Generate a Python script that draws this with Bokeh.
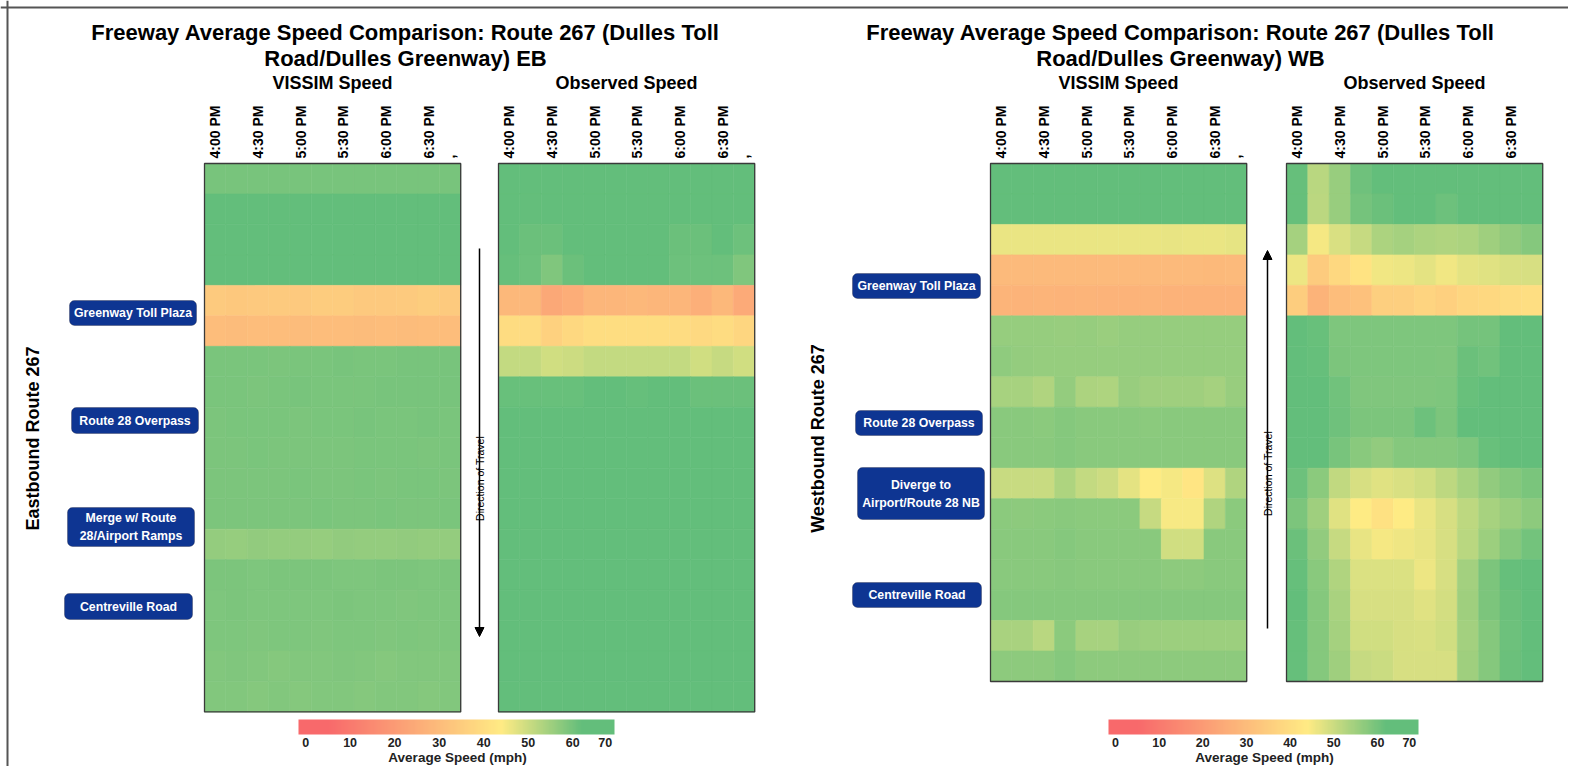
import math
import numpy as np
from bokeh.plotting import figure
from bokeh.models import (ColumnDataSource, Range1d, LinearColorMapper, ColorBar, FixedTicker,
                          BoxAnnotation, Arrow, NormalHead, Span)
from bokeh.transform import transform
from bokeh.core.properties import value
from bokeh.embed import file_html
from bokeh.resources import INLINE

# ---------------- data ----------------
tick_labels = ["4:00 PM", "4:30 PM", "5:00 PM", "5:30 PM", "6:00 PM", "6:30 PM", "  ,"]
tick_cols = [0, 2, 4, 6, 8, 10, 11]

# Eastbound, VISSIM speed (mph), 18 segments x 12 fifteen-minute intervals
eb_vissim = [
    [59.6, 59.7, 59.5, 59.7, 59.6, 59.7, 59.5, 59.6, 59.7, 59.6, 59.7, 59.6],
    [62.5, 62.5, 62.5, 62.5, 62.5, 62.5, 62.5, 62.5, 62.5, 62.5, 62.5, 62.5],
    [62.5, 62.5, 62.5, 62.5, 62.5, 62.5, 62.5, 62.5, 62.5, 62.5, 62.5, 62.5],
    [62.5, 62.5, 62.5, 62.5, 62.5, 62.5, 62.5, 62.5, 62.5, 62.5, 62.5, 62.5],
    [34.0, 33.7, 33.9, 34.1, 33.8, 34.6, 34.7, 33.9, 33.8, 34.0, 34.8, 34.0],
    [30.0, 29.9, 30.1, 30.0, 29.8, 30.0, 30.1, 29.9, 30.0, 29.9, 30.1, 30.0],
    [59.3, 59.3, 59.4, 59.2, 59.3, 59.4, 59.5, 59.4, 59.3, 59.5, 59.6, 59.5],
    [59.4, 59.3, 59.2, 59.3, 59.5, 59.4, 59.4, 59.3, 59.5, 59.6, 59.5, 59.6],
    [59.2, 59.3, 59.4, 59.3, 59.2, 59.3, 59.4, 59.5, 59.4, 59.3, 59.5, 59.4],
    [59.0, 59.2, 59.3, 59.2, 59.1, 59.0, 59.2, 59.3, 59.4, 59.3, 59.2, 59.4],
    [59.1, 59.0, 59.2, 59.1, 59.3, 59.2, 59.1, 59.3, 59.2, 59.4, 59.3, 59.2],
    [59.2, 59.1, 59.0, 59.2, 59.1, 59.3, 59.2, 59.1, 59.3, 59.2, 59.1, 59.3],
    [56.4, 56.2, 56.5, 56.3, 56.4, 56.2, 56.6, 56.3, 56.4, 56.5, 56.3, 56.4],
    [59.0, 59.1, 58.9, 59.0, 59.1, 59.0, 58.8, 58.9, 59.0, 59.1, 58.9, 59.0],
    [58.9, 59.0, 58.8, 58.9, 58.8, 58.9, 59.0, 58.8, 58.9, 58.7, 58.9, 58.8],
    [58.8, 58.9, 58.7, 58.8, 58.9, 58.7, 58.8, 58.9, 58.7, 58.8, 58.7, 58.9],
    [58.4, 58.5, 58.3, 58.2, 58.4, 58.3, 58.5, 58.4, 58.2, 58.3, 58.4, 58.3],
    [58.3, 58.4, 58.2, 58.3, 58.2, 58.4, 58.3, 58.2, 58.4, 58.3, 58.2, 58.4],
]

# Eastbound, observed speed (mph)
eb_observed = [
    [63.0, 63.0, 63.0, 63.0, 63.0, 63.0, 63.0, 63.0, 63.0, 63.0, 63.0, 63.0],
    [63.0, 61.8, 63.0, 63.0, 63.0, 63.0, 63.0, 63.0, 63.0, 63.0, 63.0, 63.0],
    [63.0, 61.2, 61.2, 63.0, 63.0, 63.0, 63.0, 63.0, 61.2, 61.2, 63.0, 60.8],
    [61.7, 60.8, 58.7, 61.2, 63.0, 63.0, 63.0, 63.0, 60.8, 60.8, 60.8, 58.7],
    [28.7, 28.7, 23.9, 25.4, 28.1, 28.1, 28.7, 28.1, 28.1, 26.0, 28.5, 24.5],
    [39.5, 39.5, 36.2, 38.3, 39.8, 39.8, 39.8, 39.8, 39.5, 38.5, 39.5, 37.7],
    [50.8, 50.8, 49.3, 49.8, 50.8, 50.8, 50.8, 50.8, 50.8, 49.3, 50.6, 49.3],
    [61.4, 61.4, 61.4, 61.4, 63.0, 63.0, 61.7, 63.0, 63.0, 61.2, 61.2, 61.2],
    [63.0, 63.0, 63.0, 63.0, 63.0, 63.0, 63.0, 63.0, 63.0, 63.0, 63.0, 63.0],
    [63.0, 63.0, 63.0, 63.0, 63.0, 63.0, 63.0, 63.0, 63.0, 63.0, 63.0, 63.0],
    [63.0, 63.0, 63.0, 63.0, 63.0, 63.0, 63.0, 63.0, 63.0, 63.0, 63.0, 63.0],
    [63.0, 63.0, 63.0, 63.0, 63.0, 63.0, 63.0, 63.0, 63.0, 63.0, 63.0, 63.0],
    [63.0, 63.0, 63.0, 63.0, 63.0, 63.0, 63.0, 63.0, 63.0, 63.0, 63.0, 63.0],
    [63.0, 63.0, 63.0, 63.0, 63.0, 63.0, 63.0, 63.0, 63.0, 63.0, 63.0, 63.0],
    [63.0, 63.0, 63.0, 63.0, 63.0, 63.0, 63.0, 63.0, 63.0, 63.0, 63.0, 63.0],
    [63.0, 63.0, 63.0, 63.0, 63.0, 63.0, 63.0, 63.0, 63.0, 63.0, 63.0, 63.0],
    [63.0, 63.0, 63.0, 63.0, 63.0, 63.0, 63.0, 63.0, 63.0, 63.0, 63.0, 63.0],
    [63.0, 63.0, 63.0, 63.0, 63.0, 63.0, 63.0, 63.0, 63.0, 63.0, 63.0, 63.0],
]

# Westbound, VISSIM speed (mph), 17 segments
wb_vissim = [
    [62.5, 62.5, 62.5, 62.5, 62.5, 62.5, 62.5, 62.5, 62.5, 62.5, 62.5, 62.5],
    [62.5, 62.5, 62.5, 62.5, 62.5, 62.5, 62.5, 62.5, 62.5, 62.5, 62.5, 62.5],
    [46.3, 46.3, 46.3, 46.3, 46.4, 46.3, 46.4, 46.3, 46.5, 46.4, 46.4, 46.8],
    [29.3, 29.3, 29.4, 29.3, 29.3, 29.4, 29.3, 29.4, 29.3, 29.3, 29.2, 29.3],
    [27.3, 27.2, 27.3, 27.2, 27.3, 27.2, 27.2, 27.3, 26.8, 26.8, 26.9, 26.8],
    [56.1, 56.1, 56.0, 55.8, 56.0, 55.5, 56.1, 56.1, 56.0, 56.0, 56.1, 56.1],
    [56.8, 56.3, 56.1, 56.2, 56.0, 56.0, 56.1, 56.0, 56.1, 56.0, 56.0, 56.1],
    [54.2, 54.2, 53.1, 56.3, 53.6, 53.4, 55.9, 55.2, 55.0, 55.0, 54.3, 55.9],
    [57.5, 57.5, 57.4, 58.0, 57.5, 57.6, 57.5, 57.4, 57.5, 57.6, 57.5, 57.5],
    [57.7, 57.6, 57.7, 58.0, 57.7, 57.7, 57.6, 57.7, 57.7, 57.6, 57.7, 57.7],
    [50.3, 50.3, 50.3, 53.3, 50.8, 49.8, 47.0, 44.2, 45.2, 42.0, 47.9, 53.1],
    [57.3, 57.0, 57.3, 57.6, 57.3, 57.3, 57.4, 50.5, 44.8, 44.8, 53.1, 57.3],
    [57.7, 57.7, 57.7, 58.0, 57.7, 57.7, 57.7, 57.7, 49.3, 49.3, 57.7, 57.7],
    [57.7, 57.7, 57.7, 57.9, 57.7, 57.7, 57.7, 57.7, 57.1, 57.1, 57.7, 57.7],
    [58.0, 58.0, 58.0, 58.2, 58.0, 58.0, 58.0, 58.0, 58.0, 58.0, 58.0, 58.0],
    [53.9, 53.9, 52.2, 57.3, 54.0, 54.0, 55.9, 55.4, 55.4, 55.4, 55.4, 55.4],
    [57.1, 57.1, 57.1, 58.0, 57.1, 57.1, 57.1, 57.1, 57.1, 57.1, 57.1, 57.1],
]

# Westbound, observed speed (mph)
wb_observed = [
    [61.7, 52.0, 55.9, 60.6, 63.0, 63.0, 63.0, 63.0, 63.0, 63.0, 63.0, 63.0],
    [61.7, 51.8, 55.9, 59.8, 61.2, 63.0, 63.0, 60.8, 63.0, 63.0, 63.0, 63.0],
    [54.3, 45.2, 48.4, 50.5, 53.6, 54.3, 53.6, 53.1, 53.6, 55.0, 56.5, 58.0],
    [46.1, 34.4, 38.3, 41.6, 45.7, 46.2, 47.2, 45.7, 47.1, 47.6, 48.4, 48.7],
    [35.0, 27.2, 30.2, 31.4, 35.6, 35.6, 37.1, 35.9, 37.7, 38.3, 39.5, 40.1],
    [63.0, 61.4, 58.8, 58.8, 58.8, 58.8, 58.8, 58.8, 59.8, 59.8, 63.0, 63.0],
    [63.0, 61.7, 59.1, 58.8, 58.8, 58.8, 58.8, 58.7, 61.2, 60.3, 63.0, 63.0],
    [63.0, 63.0, 60.3, 58.7, 58.7, 58.7, 58.7, 58.8, 61.4, 63.0, 63.0, 63.0],
    [63.0, 63.0, 60.5, 59.0, 59.0, 59.0, 60.8, 59.0, 63.0, 63.0, 63.0, 63.0],
    [63.0, 63.0, 59.6, 57.7, 56.5, 58.2, 58.2, 58.2, 58.8, 61.4, 63.0, 63.0],
    [60.8, 57.3, 51.0, 48.7, 47.5, 48.4, 49.3, 51.7, 54.2, 56.6, 58.1, 59.3],
    [59.2, 55.0, 47.7, 44.2, 41.0, 44.0, 46.3, 48.7, 51.7, 54.2, 55.5, 57.1],
    [61.2, 56.6, 50.5, 46.7, 45.2, 45.8, 46.6, 48.7, 52.2, 55.4, 58.1, 60.1],
    [61.7, 57.5, 53.1, 48.0, 48.0, 48.0, 46.0, 48.7, 54.6, 59.2, 61.7, 63.0],
    [63.0, 58.2, 53.9, 48.5, 48.5, 48.7, 47.7, 49.0, 55.0, 59.2, 61.2, 63.0],
    [61.7, 58.0, 54.3, 49.3, 49.3, 48.7, 48.4, 49.3, 54.6, 58.0, 60.8, 63.0],
    [61.7, 58.2, 55.0, 50.5, 50.1, 48.7, 48.7, 48.7, 55.0, 58.2, 61.2, 63.0],
]

# landmarks (label lines)
eb_landmarks = [["Greenway Toll Plaza"], ["Route 28 Overpass"], ["Merge w/ Route", "28/Airport Ramps"], ["Centreville Road"]]
wb_landmarks = [["Greenway Toll Plaza"], ["Route 28 Overpass"], ["Diverge to", "Airport/Route 28 NB"], ["Centreville Road"]]

colorbar_ticks = [0, 10, 20, 30, 40, 50, 60, 70]

# ---------------- helpers / layout ----------------
FONT = value("Liberation Sans")
W, H = 1568, 766
CW, RH = 21.35, 30.47          # px per interval column / per segment row
OX, OY = 204.0, 163.0          # page px of the EB VISSIM grid origin


def gx(px):
    return (px - OX) / CW


def gy(py):
    return (py - OY) / RH


def speed_color(v):
    stops = [(5.0, (248, 105, 107)), (44.0, (255, 235, 132)), (62.0, (99, 190, 123))]
    if v <= stops[0][0]:
        c = stops[0][1]
    elif v >= stops[-1][0]:
        c = stops[-1][1]
    else:
        for (a, ca), (b, cb) in zip(stops[:-1], stops[1:]):
            if a <= v <= b:
                t = (v - a) / (b - a)
                c = tuple(ca[i] + (cb[i] - ca[i]) * t for i in range(3))
                break
    return "#%02x%02x%02x" % tuple(int(round(x)) for x in c)


palette = [speed_color((i + 0.5) * 63.0 / 252) for i in range(252)]
mapper = LinearColorMapper(palette=palette, low=0, high=63)

p = figure(width=W, height=H, x_range=Range1d(gx(0), gx(W)), y_range=Range1d(gy(H), gy(0)),
           output_backend="svg", toolbar_location=None, x_axis_type=None, y_axis_type=None,
           min_border=0, outline_line_color=None, background_fill_color="white",
           border_fill_color="white")

blocks = [
    (eb_vissim, gx(204), True),
    (eb_observed, gx(498), True),
    (wb_vissim, gx(990), True),
    (wb_observed, gx(1286), False),
]

for data, x0, with_comma in blocks:
    arr = np.array(data)
    nr, nc = arr.shape
    rr, cc = np.meshgrid(np.arange(nr), np.arange(nc), indexing="ij")
    src = ColumnDataSource(dict(x=(x0 + cc + 0.5).ravel(), y=(rr + 0.5).ravel(), v=arr.ravel()))
    p.rect("x", "y", width=1, height=1, source=src, fill_color=transform("v", mapper),
           line_color=transform("v", mapper), line_width=0.6)
    p.rect(x=[x0 + nc / 2], y=[nr / 2], width=nc, height=nr, fill_color=None,
           line_color="#3a3a3a", line_width=1.3)
    labs = tick_labels if with_comma else tick_labels[:-1]
    cols = tick_cols[:len(labs)]
    p.text(x=[x0 + c + 0.5 for c in cols], y=[gy(158)] * len(labs), text=labs, angle=math.pi / 2,
           text_align="left", text_baseline="middle", text_font=FONT, text_font_style="bold",
           text_font_size="14px", text_color="black")

# titles
for cx, dirn in [(405, "EB"), (1180, "WB")]:
    p.text(x=[gx(cx), gx(cx)], y=[gy(32), gy(58)],
           text=["Freeway Average Speed Comparison: Route 267 (Dulles Toll", "Road/Dulles Greenway) " + dirn],
           text_align="center", text_baseline="alphabetic", text_font=FONT, text_font_style="bold",
           text_font_size="22px", text_color="black")

for cx, t in [(332, "VISSIM Speed"), (626, "Observed Speed"), (1118, "VISSIM Speed"), (1414, "Observed Speed")]:
    p.text(x=[gx(cx)], y=[gy(82)], text=[t], text_align="center", text_baseline="alphabetic",
           text_font=FONT, text_font_style="bold", text_font_size="18px", text_color="black")

# side labels
p.text(x=[gx(32), gx(817)], y=[gy(438), gy(438)], text=["Eastbound Route 267", "Westbound Route 267"],
       angle=math.pi / 2, text_align="center", text_baseline="middle", text_font=FONT,
       text_font_style="bold", text_font_size="18px", text_color="black")

# landmark boxes
eb_boxes = [(69, 196, 300, 325), (71, 198, 407, 433), (67, 194, 507, 546), (64, 192, 593, 619)]
wb_boxes = [(852, 980, 273, 298), (855, 982, 410, 435), (857, 984, 467, 519), (852, 981, 582, 607)]
tx, ty, tt = [], [], []
for marks, boxes, gap in [(eb_landmarks, eb_boxes, 18), (wb_landmarks, wb_boxes, 18)]:
    for lines, (l, r, t, b) in zip(marks, boxes):
        p.add_layout(BoxAnnotation(left=gx(l), right=gx(r), top=gy(t), bottom=gy(b),
                                   fill_color="#0e3592", fill_alpha=1.0, line_color="#1c1c30",
                                   line_width=1, border_radius=5))
        cy = (t + b) / 2
        n = len(lines)
        for i, s in enumerate(lines):
            tx.append(gx((l + r) / 2))
            ty.append(gy(cy + (i - (n - 1) / 2) * gap))
            tt.append(s)
rt = p.text(x=tx, y=ty, text=tt, text_align="center", text_baseline="middle", text_font=FONT,
            text_font_style="bold", text_font_size="12.3px", text_color="white")
rt.level = "overlay"

# direction of travel arrows
p.add_layout(Arrow(x_start=gx(479), y_start=gy(248), x_end=gx(479), y_end=gy(636), line_width=1.5,
                   line_color="black", end=NormalHead(size=9, fill_color="black", line_color="black")))
p.add_layout(Arrow(x_start=gx(1267), y_start=gy(628), x_end=gx(1267), y_end=gy(250), line_width=1.5,
                   line_color="black", end=NormalHead(size=9, fill_color="black", line_color="black")))
rd = p.text(x=[gx(479), gx(1267)], y=[gy(478), gy(473)], text=["Direction of Travel", "Direction of Travel"],
            angle=math.pi / 2, text_align="center", text_baseline="middle", text_font=FONT,
            text_font_size="10.5px", text_color="black")
rd.level = "overlay"

# colour scales
cb_low, cb_high = -1.6, 69.4
cb_palette = [speed_color(cb_low + (i + 0.5) * (cb_high - cb_low) / 284) for i in range(284)]
cb_mapper = LinearColorMapper(palette=cb_palette, low=cb_low, high=cb_high)
tick_pos = [float(t) for t in colorbar_ticks[:-1]] + [67.3]
overrides = {tp: str(t) for tp, t in zip(tick_pos, colorbar_ticks)}
for lx, w in [(298, 316), (1108, 310)]:
    cb = ColorBar(color_mapper=cb_mapper, orientation="horizontal", width=w, height=15, location=(lx, 17),
                  padding=0, margin=0, ticker=FixedTicker(ticks=tick_pos), major_label_overrides=overrides,
                  major_label_text_font="Liberation Sans", major_label_text_font_style="bold",
                  major_label_text_font_size="12.5px", major_label_text_color="#222222",
                  major_tick_line_color=None, minor_tick_line_color=None, bar_line_color=None,
                  background_fill_alpha=0, border_line_color=None, label_standoff=3)
    p.add_layout(cb, "center")
p.text(x=[gx(457), gx(1264)], y=[gy(757), gy(757)], text=["Average Speed (mph)", "Average Speed (mph)"],
       text_align="center", text_baseline="middle", text_font=FONT, text_font_style="bold",
       text_font_size="13.5px", text_color="#222222")

# page frame (top and left rules)
p.add_layout(Span(location=gy(7), dimension="width", line_color="#555555", line_width=2))
p.add_layout(Span(location=gx(7), dimension="height", line_color="#555555", line_width=2))

open("out.html", "w").write(file_html(p, INLINE))
